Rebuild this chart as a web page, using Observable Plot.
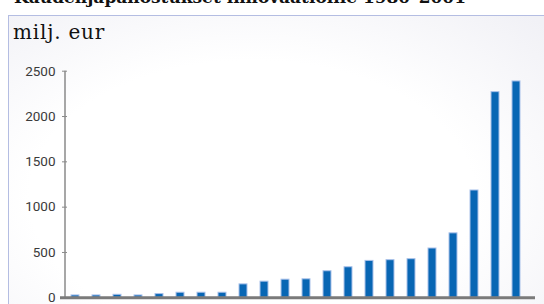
<!DOCTYPE html>
<html>
<head>
<meta charset="utf-8">
<script src="https://cdn.jsdelivr.net/npm/d3@7"></script>
<script src="https://cdn.jsdelivr.net/npm/@observablehq/plot@0.6"></script>
<style>
  html, body { margin: 0; padding: 0; background: #fff; width: 544px; height: 304px; overflow: hidden; }
  #wrap { position: relative; width: 544px; height: 304px; overflow: hidden; }
  #title { position: absolute; left: 14px; top: -11px; font-family: "DejaVu Serif", serif; font-size: 17px; font-weight: bold; color: #111; white-space: nowrap; line-height: 17px; }
  #panel { position: absolute; left: 8px; top: 15px; width: 540px; height: 292px; border: 1px solid #b4bde2;
           background: radial-gradient(ellipse 75% 85% at 45% 62%, #ffffff 0%, #ffffff 55%, #f1f1f6 100%); }
  #unit { position: absolute; left: 13px; top: 20px; font-family: "DejaVu Serif", serif; font-size: 20px; letter-spacing: 0.8px; color: #111; line-height: 24px; }
  #chart { position: absolute; left: 0; top: 0; }
</style>
</head>
<body>
<div id="wrap">
  <div id="title">Kaudenjapanostukset innovaatioille 1980–2001</div>
  <div id="panel"></div>
  <div id="unit">milj. eur</div>
  <div id="chart"></div>
</div>
<script>
const years = ["1980","1981","1982","1983","1984","1985","1986","1987","1988","1989","1990",
               "1991","1992","1993","1994","1995","1996","1997","1998","1999","2000","2001"];
const values = [26, 26, 33, 26, 41, 56, 56, 56, 148, 178, 200,
                204, 293, 337, 407, 415, 426, 544, 711, 1184, 2269, 2387];
const yTicks = [0, 500, 1000, 1500, 2000, 2500];

const data = years.map((year, i) => ({year, value: values[i]}));

const W = 544, H = 304, ML = 62, MR = 14;
const chart = Plot.plot({
  width: W,
  height: H,
  marginLeft: ML,
  marginRight: MR,
  marginTop: 70.7,
  marginBottom: 6.7,
  style: {background: "transparent", fontFamily: "Roboto, sans-serif", fontSize: "13.5px", color: "#3a3a3a"},
  x: {domain: years, paddingInner: 0.6, paddingOuter: 0.3, axis: null},
  y: {domain: [0, 2500], axis: null},
  marks: [
    Plot.ruleX([0], {x: null, y1: 0, y2: 2500, dx: 64.5 - (ML + (W - ML - MR) / 2), stroke: "#8a8a8a", strokeWidth: 1.5}),
    Plot.axisY({ticks: yTicks, tickFormat: d => String(d), tickSize: 5, tickPadding: 7, dx: 5, stroke: "#8a8a8a", fill: "#3a3a3a", label: null}),
    Plot.barY(data, {x: "year", y: "value", fill: "#0866b4", stroke: "#a9c1ea", strokeWidth: 1}),
    Plot.ruleY([0], {stroke: "#7a7a7a", strokeWidth: 3, insetLeft: -2, insetRight: -5})
  ]
});
document.getElementById("chart").appendChild(chart);
</script>
</body>
</html>
